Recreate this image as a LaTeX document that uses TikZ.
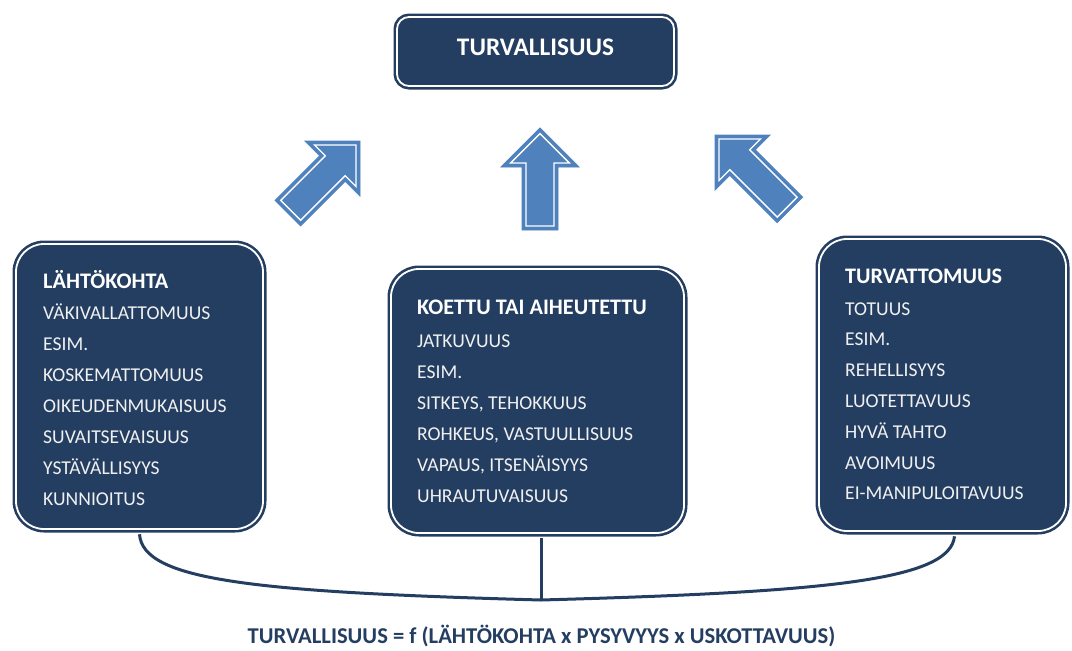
\documentclass[tikz,border=0pt]{standalone}
\usepackage{fontspec}
\setmainfont{Carlito}
\usetikzlibrary{calc}
\definecolor{navy}{RGB}{36,62,97}
\definecolor{arrowblue}{RGB}{79,129,189}
\definecolor{boxtext}{RGB}{240,240,240}
\tikzset{
  panel/.style={draw=navy, fill=navy, double=white, double distance=1.8pt,
    line width=2.6pt, rounded corners=28pt, inner sep=0pt},
  toppanel/.style={panel, rounded corners=12pt},
  itemtext/.style={anchor=base west, text=boxtext, inner sep=0pt,
    font=\fontsize{19.6}{22}\selectfont},
  titletext/.style={anchor=base west, text=white, inner sep=0pt,
    font=\bfseries\fontsize{22.2}{24}\selectfont},
  conn/.style={draw=navy, line width=3pt},
  arrowbody/.style={fill=arrowblue, draw=arrowblue, line width=0.8pt, line join=miter},
  arrowline/.style={draw=white, line width=1.4pt, line join=miter}
}
\newcommand\BlueArrow[4]{%
  \begin{scope}[shift={(#1,#2)}, rotate=#3]
    \path[arrowbody] (0,0) -- (39,39) -- (18,39) -- (18,#4) -- (-18,#4) -- (-18,39) -- (-39,39) -- cycle;
    \path[arrowline] (0,5.7) -- (29.3,35) -- (14,35) -- (14,#4-4) -- (-14,#4-4) -- (-14,35) -- (-29.3,35) -- cycle;
  \end{scope}}
\begin{document}
\begin{tikzpicture}[x=1pt, y=-1pt]
  \useasboundingbox (0,0) rectangle (1072,651);
  % top box
  \node[toppanel, minimum width=277pt, minimum height=69pt] (top) at (535.5,51.5) {};
  \node[anchor=base, text=white, inner sep=0pt, font=\bfseries\fontsize{25.3}{28}\selectfont] (toptext) at (535.5,55) {TURVALLISUUS};
  % arrows
  \BlueArrow{540}{128}{0}{102}
  \BlueArrow{360}{141}{-45}{102}
  \BlueArrow{715}{135}{45}{106}
  % boxes
  \node[panel, minimum width=247pt, minimum height=285pt] (lbox) at (139.5,386.5) {};
  \node[panel, minimum width=293pt, minimum height=264pt] (mbox) at (537.5,401) {};
  \node[panel, minimum width=247pt, minimum height=292pt] (rbox) at (942.5,385) {};
  % left box text
  \node[titletext] (ltitle) at (43,288) {LÄHTÖKOHTA};
  \foreach \t [count=\i] in {VÄKIVALLATTOMUUS, ESIM., KOSKEMATTOMUUS, OIKEUDENMUKAISUUS, SUVAITSEVAISUUS, YSTÄVÄLLISYYS, KUNNIOITUS}
    \node[itemtext] (l\i) at (43, 288+31*\i) {\t};
  % middle box text
  \node[titletext] (mtitle) at (417,314) {KOETTU TAI AIHEUTETTU};
  \foreach \t [count=\i] in {JATKUVUUS, ESIM., {SITKEYS, TEHOKKUUS}, {ROHKEUS, VASTUULLISUUS}, {VAPAUS, ITSENÄISYYS}, UHRAUTUVAISUUS}
    \node[itemtext] (m\i) at (417, 316+31*\i) {\t};
  % right box text
  \node[titletext] (rtitle) at (845,283) {TURVATTOMUUS};
  \foreach \t [count=\i] in {TOTUUS, ESIM., REHELLISYYS, LUOTETTAVUUS, HYVÄ TAHTO, AVOIMUUS, EI-MANIPULOITAVUUS}
    \node[itemtext] (r\i) at (845, 284.2+30.8*\i) {\t};
  % connectors
  \coordinate (join) at (541,600);
  \draw[conn] ($(lbox.south)+(0,4)$) .. controls (143,580) and (250,592) .. (join);
  \draw[conn] ($(mbox.south)+(3.5,4)$) -- (join);
  \draw[conn] (join) .. controls (830,592) and (950,580) .. ($(rbox.south)+(12,4)$);
  % formula
  \node[anchor=base, text=navy, inner sep=0pt, font=\bfseries\fontsize{22.6}{26}\selectfont] (formula) at (541.5,643.5) {TURVALLISUUS = f (LÄHTÖKOHTA x PYSYVYYS x USKOTTAVUUS)};
\end{tikzpicture}
\end{document}
